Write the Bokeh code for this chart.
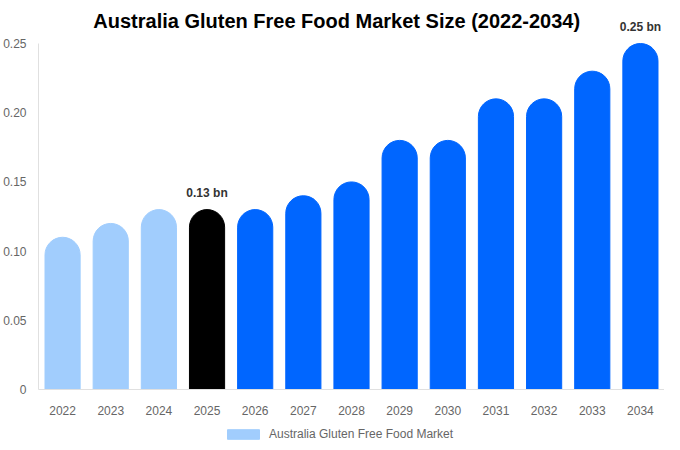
from bokeh.plotting import figure
from bokeh.layouts import column
from bokeh.models import (ColumnDataSource, FactorRange, FixedTicker, Label,
                          Legend, LegendItem, Range1d)
from bokeh.embed import file_html
from bokeh.resources import INLINE

years = ["2022", "2023", "2024", "2025", "2026", "2027", "2028",
         "2029", "2030", "2031", "2032", "2033", "2034"]
values = [0.11, 0.12, 0.13, 0.13, 0.13, 0.14, 0.15,
          0.18, 0.18, 0.21, 0.21, 0.23, 0.25]
bar_colors = ["#a1cdfd", "#a1cdfd", "#a1cdfd", "#000000", "#0066ff", "#0066ff",
              "#0066ff", "#0066ff", "#0066ff", "#0066ff", "#0066ff", "#0066ff",
              "#0066ff"]
y_ticks = [0, 0.05, 0.10, 0.15, 0.20, 0.25]
y_tick_labels = ["0", "0.05", "0.10", "0.15", "0.20", "0.25"]
annotated = {"2025": "0.13 bn", "2034": "0.25 bn"}
series_name = "Australia Gluten Free Food Market"
title = "Australia Gluten Free Food Market Size (2022-2034)"

FONT = "Liberation Sans"

# frame runs from the very top; the axis itself only spans 0..0.25
y_top = 0.25 * 389 / 346

source = ColumnDataSource(data=dict(years=years, values=values, color=bar_colors))

p = figure(x_range=FactorRange(*years, range_padding=0), y_range=Range1d(0, y_top),
           width=664, height=421, title=None,
           output_backend="svg", toolbar_location=None, tools="",
           min_border_left=30, min_border_right=0, min_border_top=0,
           min_border_bottom=32)
p.outline_line_color = None

r = p.vbar(x="years", top="values", width=0.73, color="color", source=source,
           border_radius=(18, 18, 0, 0))

p.xgrid.grid_line_color = None
p.ygrid.grid_line_color = None

for ax in (p.xaxis, p.yaxis):
    ax.axis_line_color = "#e0e0e0"
    ax.major_tick_line_color = None
    ax.minor_tick_line_color = None
    ax.major_label_text_font = FONT
    ax.major_label_text_font_size = "12px"
    ax.major_label_text_color = "#666666"

p.yaxis.bounds = (0, 0.25)
p.yaxis.ticker = FixedTicker(ticks=y_ticks)
p.yaxis.major_label_overrides = {t: l for t, l in zip(y_ticks, y_tick_labels)}
p.yaxis.major_label_standoff = 6
p.xaxis.major_label_standoff = 10

# chart title
p.add_layout(Label(x=13 * (332 - 30) / 634, y=(389 - 20) / 1384, text=title,
                   text_align="center", text_baseline="middle",
                   text_font=FONT, text_font_size="20px",
                   text_font_style="bold", text_color="#000000"))

for yr, txt in annotated.items():
    i = years.index(yr)
    p.add_layout(Label(x=i + 0.5, y=values[i], text=txt, y_offset=10,
                       text_align="center", text_baseline="bottom",
                       text_font=FONT, text_font_size="12px",
                       text_font_style="bold", text_color="#333333"))

# legend lives in its own strip under the chart (column aligns the frames)
lg = figure(width=664, height=24, output_backend="svg", toolbar_location=None,
            tools="", x_axis_location=None, y_axis_location=None,
            x_range=Range1d(0, 1), y_range=Range1d(0, 1), min_border=0,
            min_border_left=30, min_border_right=0)
lg.outline_line_color = None
lg.grid.visible = False
# bar below the strip's range, only there to give the legend its swatch
dummy = lg.vbar(x=[0.5], top=[-1], bottom=[-2], width=0.5, color=bar_colors[0])
legend = Legend(items=[LegendItem(label=series_name, renderers=[dummy], index=0)],
                orientation="horizontal", location=(185, 4),
                glyph_width=40, glyph_height=12, label_text_font=FONT,
                label_text_font_size="12px", label_text_color="#666666",
                border_line_color=None, background_fill_alpha=0,
                padding=2, margin=0, label_standoff=6, label_height=12)
lg.add_layout(legend, "center")

layout = column(p, lg, spacing=0)

open("out.html", "w").write(file_html(layout, INLINE))
